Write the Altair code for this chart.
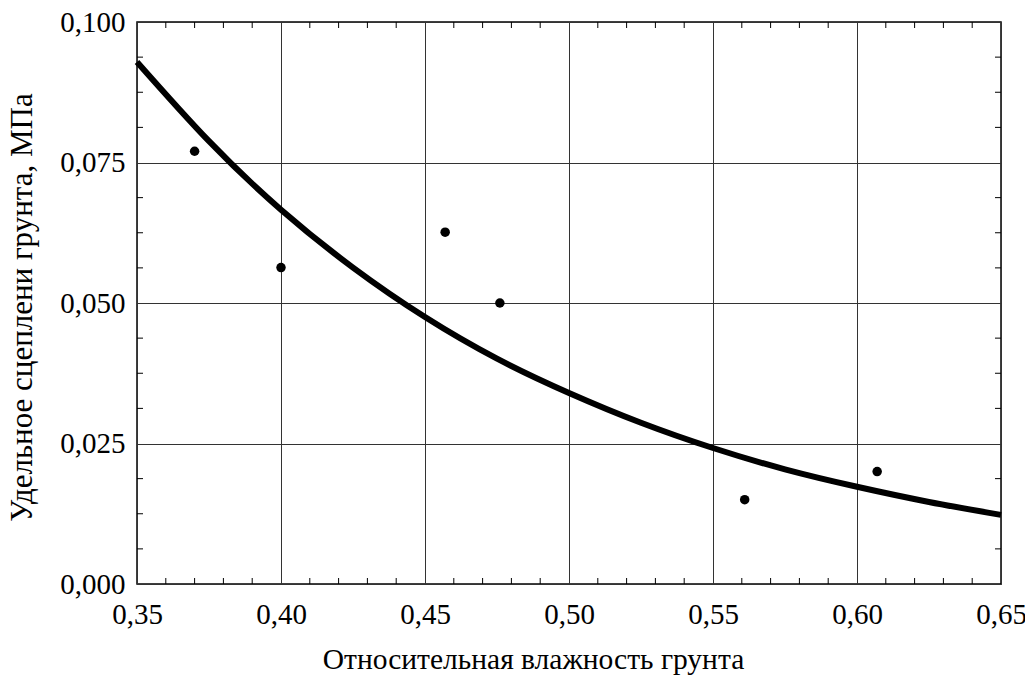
import altair as alt
import pandas as pd

# measured points
x_pts = [0.370, 0.400, 0.457, 0.476, 0.561, 0.607]
y_pts = [0.0770, 0.0563, 0.0626, 0.0500, 0.0150, 0.0200]

# fitted curve
curve_x = [0.350, 0.375, 0.400, 0.425, 0.450, 0.475, 0.500, 0.525, 0.550, 0.575, 0.600, 0.625, 0.650]
curve_y = [0.0929, 0.0788, 0.0666, 0.0563, 0.0475, 0.0401, 0.0340, 0.0287, 0.0242, 0.0204, 0.0173, 0.0146, 0.0123]

x_major = [0.35, 0.40, 0.45, 0.50, 0.55, 0.60, 0.65]
y_major = [0.000, 0.025, 0.050, 0.075, 0.100]
x_minor = [0.36, 0.37, 0.38, 0.39, 0.41, 0.42, 0.43, 0.44, 0.46, 0.47, 0.48, 0.49,
           0.51, 0.52, 0.53, 0.54, 0.56, 0.57, 0.58, 0.59, 0.61, 0.62, 0.63, 0.64]
y_minor = [0.00625, 0.0125, 0.01875, 0.03125, 0.0375, 0.04375, 0.05625, 0.0625,
           0.06875, 0.08125, 0.0875, 0.09375]

x_title = "Относительная влажность грунта"
y_title = "Удельное сцеплени грунта, МПа"

W, H = 864, 562
FONT = "Liberation Serif"

pts = pd.DataFrame({"x": x_pts, "y": y_pts})
curve = pd.DataFrame({"x": curve_x, "y": curve_y})
xm = pd.DataFrame({"x": x_minor})
ym = pd.DataFrame({"y": y_minor})

xscale = alt.Scale(domain=[0.35, 0.65], nice=False, zero=False)
yscale = alt.Scale(domain=[0.0, 0.1], nice=False, zero=False)

xaxis = alt.Axis(values=x_major, labelExpr="replace(format(datum.value, '.2f'), '.', ',')",
                 grid=True, gridColor="#333333", gridWidth=1, ticks=False, domain=False,
                 labelFont=FONT, labelFontSize=29, labelColor="black", labelPadding=16,
                 labelFlush=False, labelOverlap=False,
                 title=x_title, titleFont=FONT, titleFontSize=29.5, titleFontWeight="normal",
                 titleColor="black", titleX=396, titleY=84, titleBaseline="alphabetic",
                 titleAlign="center")
yaxis = alt.Axis(values=y_major, labelExpr="replace(format(datum.value, '.3f'), '.', ',')",
                 grid=True, gridColor="#333333", gridWidth=1, ticks=False, domain=False,
                 labelFont=FONT, labelFontSize=29, labelColor="black", labelPadding=12,
                 labelFlush=False, labelOverlap=False,
                 title=y_title, titleFont=FONT, titleFontSize=31, titleFontWeight="normal",
                 titleColor="black", titleX=-106, titleY=285, titleBaseline="alphabetic",
                 titleAlign="center", titleAngle=270)

X = alt.X("x:Q", scale=xscale, axis=xaxis)
Y = alt.Y("y:Q", scale=yscale, axis=yaxis)

base_line = alt.Chart(curve).mark_line(color="black", strokeWidth=6, interpolate="natural").encode(
    x=X, y=Y)
points = alt.Chart(pts).mark_circle(color="black", opacity=1, size=90).encode(x=X, y=Y)

tl = 6
xb = alt.Chart(xm).mark_rule(color="black", strokeWidth=1).encode(
    x=X, y=alt.value(H), y2=alt.value(H - tl))
xt = alt.Chart(xm).mark_rule(color="black", strokeWidth=1).encode(
    x=X, y=alt.value(0), y2=alt.value(tl))
yl = alt.Chart(ym).mark_rule(color="black", strokeWidth=1).encode(
    y=Y, x=alt.value(0), x2=alt.value(tl))
yr = alt.Chart(ym).mark_rule(color="black", strokeWidth=1).encode(
    y=Y, x=alt.value(W), x2=alt.value(W - tl))

chart = alt.layer(base_line, xb, xt, yl, yr, points).properties(
    width=W, height=H,
    autosize=alt.AutoSizeParams(type="none"),
    padding={"left": 129, "top": 14, "right": 24, "bottom": 91},
).configure(background="white", font=FONT).configure_view(
    stroke="black", strokeWidth=1.5
).configure_axis(labelFont=FONT, titleFont=FONT)

chart.save("out.html", embed_options={"renderer": "svg", "actions": False})
